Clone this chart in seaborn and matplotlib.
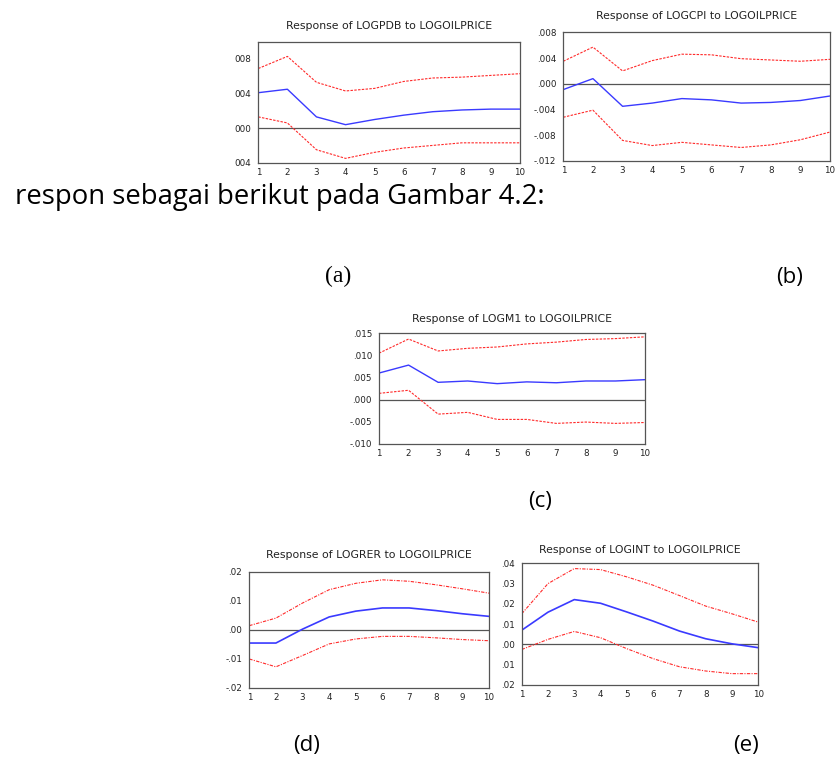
import matplotlib
matplotlib.use("Agg")
import matplotlib.pyplot as plt
import seaborn as sns

# impulse responses to LOGOILPRICE, periods 1..10
periods = list(range(1, 11))

pdb_resp = [0.0041, 0.0045, 0.0013, 0.0004, 0.0010, 0.0015, 0.0019, 0.0021, 0.0022, 0.0022]
pdb_upper = [0.0069, 0.0083, 0.0053, 0.0043, 0.0046, 0.0054, 0.0058, 0.0059, 0.0061, 0.0063]
pdb_lower = [0.0013, 0.0006, -0.0025, -0.0035, -0.0028, -0.0023, -0.0020, -0.0017, -0.0017, -0.0017]

cpi_resp = [-0.0009, 0.0008, -0.0035, -0.0030, -0.0023, -0.0025, -0.0030, -0.0029, -0.0026, -0.0019]
cpi_upper = [0.0035, 0.0057, 0.0020, 0.0036, 0.0046, 0.0045, 0.0039, 0.0037, 0.0035, 0.0038]
cpi_lower = [-0.0052, -0.0041, -0.0088, -0.0096, -0.0091, -0.0095, -0.0099, -0.0095, -0.0087, -0.0075]

m1_resp = [0.0060, 0.0078, 0.0039, 0.0042, 0.0036, 0.0040, 0.0038, 0.0042, 0.0042, 0.0045]
m1_upper = [0.0105, 0.0137, 0.0110, 0.0116, 0.0119, 0.0126, 0.0130, 0.0136, 0.0138, 0.0142]
m1_lower = [0.0014, 0.0021, -0.0033, -0.0029, -0.0045, -0.0045, -0.0054, -0.0051, -0.0054, -0.0052]

rer_resp = [-0.0046, -0.0046, 0.0002, 0.0044, 0.0064, 0.0075, 0.0075, 0.0066, 0.0055, 0.0046]
rer_upper = [0.0014, 0.0040, 0.0092, 0.0138, 0.0160, 0.0172, 0.0167, 0.0155, 0.0141, 0.0126]
rer_lower = [-0.0101, -0.0128, -0.0089, -0.0049, -0.0032, -0.0023, -0.0023, -0.0028, -0.0034, -0.0038]

int_resp = [0.0070, 0.0159, 0.0221, 0.0203, 0.0160, 0.0115, 0.0066, 0.0028, 0.0003, -0.0016]
int_upper = [0.0151, 0.0300, 0.0374, 0.0369, 0.0333, 0.0292, 0.0241, 0.0189, 0.0151, 0.0110]
int_lower = [-0.0025, 0.0025, 0.0064, 0.0033, -0.0021, -0.0070, -0.0110, -0.0131, -0.0144, -0.0144]

W, H = 837, 758

sns.set_style("white")
plt.rcParams["font.family"] = ["DejaVu Sans"]
plt.rcParams["text.color"] = "black"

fig = plt.figure(figsize=(W / 100, H / 100), dpi=100)


def panel(box, title, title_y, resp, upper, lower, yticks, ylabels, ylim, blurry=False):
    l, t, r, b = box
    ax = fig.add_axes([l / W, 1 - b / H, (r - l) / W, (b - t) / H])
    ax.axhline(0, color="#555555", lw=0.9, zorder=1)
    dash = (0, (3, 1.2, 1, 1.2)) if blurry else (0, (2.2, 1.2))
    sns.lineplot(x=periods, y=upper, ax=ax, color="#ff2a2a", lw=0.8, linestyle=dash)
    sns.lineplot(x=periods, y=lower, ax=ax, color="#ff2a2a", lw=0.8, linestyle=dash)
    sns.lineplot(x=periods, y=resp, ax=ax, color="#3a3aff", lw=1.2 if blurry else 1.0)
    ax.set_xlim(1, 10)
    ax.set_ylim(*ylim)
    ax.set_xticks(periods)
    ax.set_xticklabels([str(p) for p in periods])
    ax.set_yticks(yticks)
    ax.set_yticklabels(ylabels)
    ax.tick_params(axis="both", labelsize=6.3, length=2.5, width=0.7, pad=1.2,
                   colors="#222222", direction="out")
    ax.tick_params(axis="y", pad=2.5)
    ax.set_xlabel("")
    ax.set_ylabel("")
    for s in ax.spines.values():
        s.set_color("#555555")
        s.set_linewidth(0.9)
    fig.text((l + r) / 2 / W, 1 - title_y / H, title, ha="center", va="center",
             fontsize=7.8, color="#222222")
    return ax


panel((258.3, 41.7, 520, 162.7), "Response of LOGPDB to LOGOILPRICE", 25.7,
      pdb_resp, pdb_upper, pdb_lower,
      [0.008, 0.004, 0.0, -0.004], ["008", "004", "000", "004"], (-0.004, 0.010))

panel((563.3, 32.3, 830, 161), "Response of LOGCPI to LOGOILPRICE", 15.7,
      cpi_resp, cpi_upper, cpi_lower,
      [0.008, 0.004, 0.0, -0.004, -0.008, -0.012],
      [".008", ".004", ".000", "-.004", "-.008", "-.012"], (-0.012, 0.008))

panel((379, 333.3, 645, 443.7), "Response of LOGM1 to LOGOILPRICE", 319,
      m1_resp, m1_upper, m1_lower,
      [0.015, 0.010, 0.005, 0.0, -0.005, -0.010],
      [".015", ".010", ".005", ".000", "-.005", "-.010"], (-0.010, 0.015))

panel((249.3, 571.7, 489, 687.7), "Response of LOGRER to LOGOILPRICE", 555,
      rer_resp, rer_upper, rer_lower,
      [0.02, 0.01, 0.0, -0.01, -0.02],
      [".02", ".01", ".00", "-.01", "-.02"], (-0.02, 0.02), blurry=True)

panel((521.7, 563.3, 758.3, 685), "Response of LOGINT to LOGOILPRICE", 550,
      int_resp, int_upper, int_lower,
      [0.04, 0.03, 0.02, 0.01, 0.0, -0.01, -0.02],
      [".04", ".03", ".02", ".01", ".00", ".01", ".02"], (-0.02, 0.04), blurry=True)

# surrounding document text
fig.text(15 / W, 1 - 197 / H, "respon sebagai berikut pada Gambar 4.2:",
         ha="left", va="center", fontsize=19.8, family=["Open Sans", "DejaVu Sans"])
fig.text(338 / W, 1 - 276 / H, "(a)", ha="center", va="center", fontsize=17,
         family=["Liberation Serif", "DejaVu Serif"])
for lab, x, y in [("(b)", 790, 277), ("(c)", 540, 502), ("(d)", 307, 745), ("(e)", 746, 745)]:
    fig.text(x / W, 1 - y / H, lab, ha="center", va="center", fontsize=16,
             family=["Open Sans", "DejaVu Sans"])

fig.savefig("out.png", dpi=100)
